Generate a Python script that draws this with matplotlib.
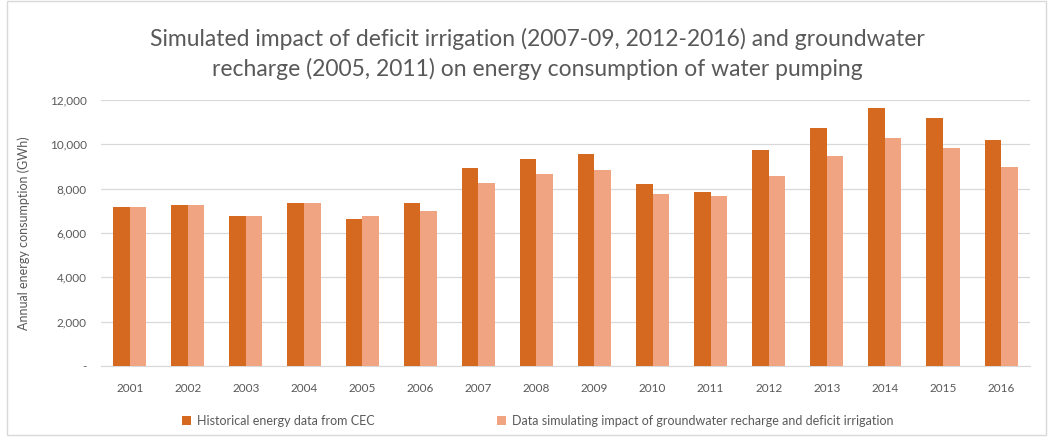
import numpy as np
import matplotlib.pyplot as plt
from matplotlib.patches import Rectangle
from matplotlib.ticker import FuncFormatter

plt.rcParams['font.family'] = ['Lato', 'DejaVu Sans']

# data (GWh)
years = ['2001', '2002', '2003', '2004', '2005', '2006', '2007', '2008',
         '2009', '2010', '2011', '2012', '2013', '2014', '2015', '2016']
historical = [7160, 7260, 6770, 7370, 6630, 7370, 8920, 9320,
              9550, 8210, 7850, 9740, 10750, 11650, 11170, 10180]
simulated = [7160, 7260, 6770, 7370, 6770, 7010, 8270, 8650,
             8840, 7770, 7670, 8570, 9490, 10270, 9850, 8960]

dark = '#D5691F'
light = '#F1A482'
grey = '#595959'

fig = plt.figure(figsize=(10.49, 4.42), dpi=100)
ax = fig.add_axes([0.096, 0.172, 0.886, 0.602])

x = np.arange(len(years))
w = 0.285
ax.bar(x - w/2, historical, w, color=dark, label='Historical energy data from CEC', zorder=3)
ax.bar(x + w/2, simulated, w, color=light,
       label='Data simulating impact of groundwater recharge and deficit irrigation', zorder=3)

ax.set_xlim(-0.5, len(years) - 0.5)
ax.set_ylim(0, 12000)
ax.set_yticks(np.arange(0, 12001, 2000))
ax.yaxis.set_major_formatter(FuncFormatter(lambda v, p: '-' if v == 0 else '{:,.0f}'.format(v)))
ax.set_xticks(x)
ax.set_xticklabels(years)
ax.grid(axis='y', color='#D9D9D9', linewidth=0.9, zorder=0)
for s in ax.spines.values():
    s.set_visible(False)
ax.spines['bottom'].set_visible(True)
ax.spines['bottom'].set_color('#D9D9D9')
ax.tick_params(axis='both', length=0, labelsize=8.5, colors=grey)
ax.tick_params(axis='x', pad=12)
ax.tick_params(axis='y', pad=10)
ax.set_ylabel('Annual energy consumption (GWh)', fontsize=9, color=grey, labelpad=14)

fig.text(0.512, 0.878, 'Simulated impact of deficit irrigation (2007-09, 2012-2016) and groundwater\n'
         'recharge (2005, 2011) on energy consumption of water pumping',
         ha='center', va='center', fontsize=16.5, color=grey, linespacing=1.45)

fig.legend(loc='center', bbox_to_anchor=(0.513, 0.047), ncol=2, frameon=False,
           fontsize=9, labelcolor=grey, handlelength=0.7, handleheight=0.7,
           handletextpad=0.5, columnspacing=9.8)

fig.patches.append(Rectangle((7, 7), 1039, 434, transform=None, fill=False,
                             edgecolor='#D9D9D9', linewidth=1))

plt.savefig('out.png', dpi=100)
